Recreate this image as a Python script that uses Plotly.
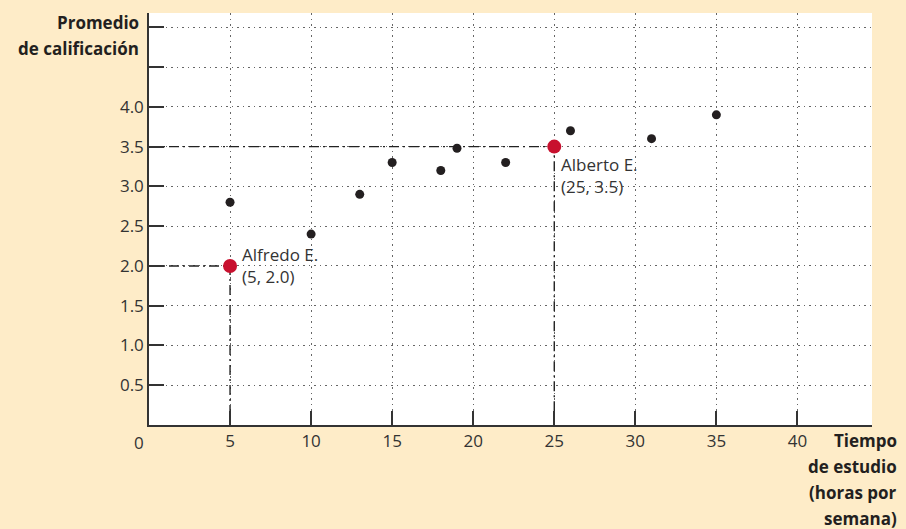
import plotly.graph_objects as go

# Data
hours = [5, 10, 13, 15, 18, 19, 22, 26, 31, 35]
grades = [2.8, 2.4, 2.9, 3.3, 3.2, 3.48, 3.3, 3.7, 3.6, 3.9]

highlight_names = ["Alfredo E.", "Alberto E."]
highlight_hours = [5, 25]
highlight_grades = [2.0, 3.5]

x_ticks = [5, 10, 15, 20, 25, 30, 35, 40]
y_ticks = [0.5, 1.0, 1.5, 2.0, 2.5, 3.0, 3.5, 4.0, 4.5, 5.0]
y_tick_labels = ["0.5", "1.0", "1.5", "2.0", "2.5", "3.0", "3.5", "4.0", "", ""]

y_title_lines = ["Promedio", "de calificación"]
x_title_lines = ["Tiempo", "de estudio", "(horas por", "semana)"]

FONT = "Open Sans"
TXT = "#333333"

fig = go.Figure()

# reference dash-dot lines for highlighted students
for hx, hy in zip(highlight_hours, highlight_grades):
    fig.add_trace(go.Scatter(
        x=[0, hx, hx], y=[hy, hy, 0], mode="lines",
        line=dict(color="#222222", width=1.4, dash="10px,4px,2px,4px"),
        hoverinfo="skip", showlegend=False, cliponaxis=False))

fig.add_trace(go.Scatter(
    x=hours, y=grades, mode="markers",
    marker=dict(color="#231f20", size=9),
    showlegend=False))

fig.add_trace(go.Scatter(
    x=highlight_hours, y=highlight_grades, mode="markers",
    marker=dict(color="#c8102e", size=14),
    showlegend=False))

# labels of highlighted points
fig.add_annotation(x=highlight_hours[0], y=highlight_grades[0], xref="x", yref="y",
                   text=f"{highlight_names[0]}<br>({highlight_hours[0]}, {highlight_grades[0]:.1f})",
                   showarrow=False, xanchor="left", yanchor="middle", align="left",
                   xshift=10, font=dict(family=FONT, size=17, color=TXT))
fig.add_annotation(x=highlight_hours[1], y=highlight_grades[1], xref="x", yref="y",
                   text=f"{highlight_names[1]}<br>({highlight_hours[1]}, {highlight_grades[1]:.1f})",
                   showarrow=False, xanchor="left", yanchor="top", align="left",
                   xshift=5, yshift=-4, font=dict(family=FONT, size=17, color=TXT))

# origin label
fig.add_annotation(x=0, y=0, xref="x", yref="y", text="0", showarrow=False,
                   xanchor="center", yanchor="top", xshift=-10, yshift=-4,
                   font=dict(family=FONT, size=17, color=TXT))

# axis titles, one annotation per line
for i, line in enumerate(y_title_lines):
    fig.add_annotation(x=0, y=1, xref="paper", yref="paper",
                       text=f"<b>{line}</b>", showarrow=False,
                       xanchor="right", yanchor="middle", xshift=-8, yshift=-9 - 26 * i,
                       font=dict(family=FONT, size=17, color="#231f20"))
for i, line in enumerate(x_title_lines):
    fig.add_annotation(x=1, y=0, xref="paper", yref="paper",
                       text=f"<b>{line}</b>", showarrow=False,
                       xanchor="right", yanchor="middle", xshift=27, yshift=-15 - 26 * i,
                       font=dict(family=FONT, size=17, color="#231f20"))

fig.update_xaxes(range=[0, 44.6], tickvals=x_ticks, ticks="inside", ticklen=14,
                 tickcolor="#333333", tickwidth=1.5,
                 showline=True, linecolor="#333333", linewidth=1.5,
                 showgrid=True, gridcolor="#666666", griddash="1.5px,4px", gridwidth=1.2,
                 zeroline=False, tickfont=dict(family=FONT, size=17, color=TXT))
fig.update_yaxes(range=[0, 5.18], tickvals=y_ticks, ticktext=y_tick_labels,
                 ticks="inside", ticklen=15, tickcolor="#333333", tickwidth=1.5,
                 showline=True, linecolor="#333333", linewidth=1.5,
                 showgrid=True, gridcolor="#666666", griddash="1.5px,4px", gridwidth=1.2,
                 zeroline=False, tickfont=dict(family=FONT, size=17, color=TXT))

fig.update_layout(width=906, height=529,
                  margin=dict(l=149, r=34, t=13, b=104),
                  paper_bgcolor="#feecc8", plot_bgcolor="#ffffff",
                  showlegend=False)

fig.write_html("out.html", config={"displayModeBar": False},
               post_script="document.body.style.margin='0';document.body.style.overflow='hidden';")
